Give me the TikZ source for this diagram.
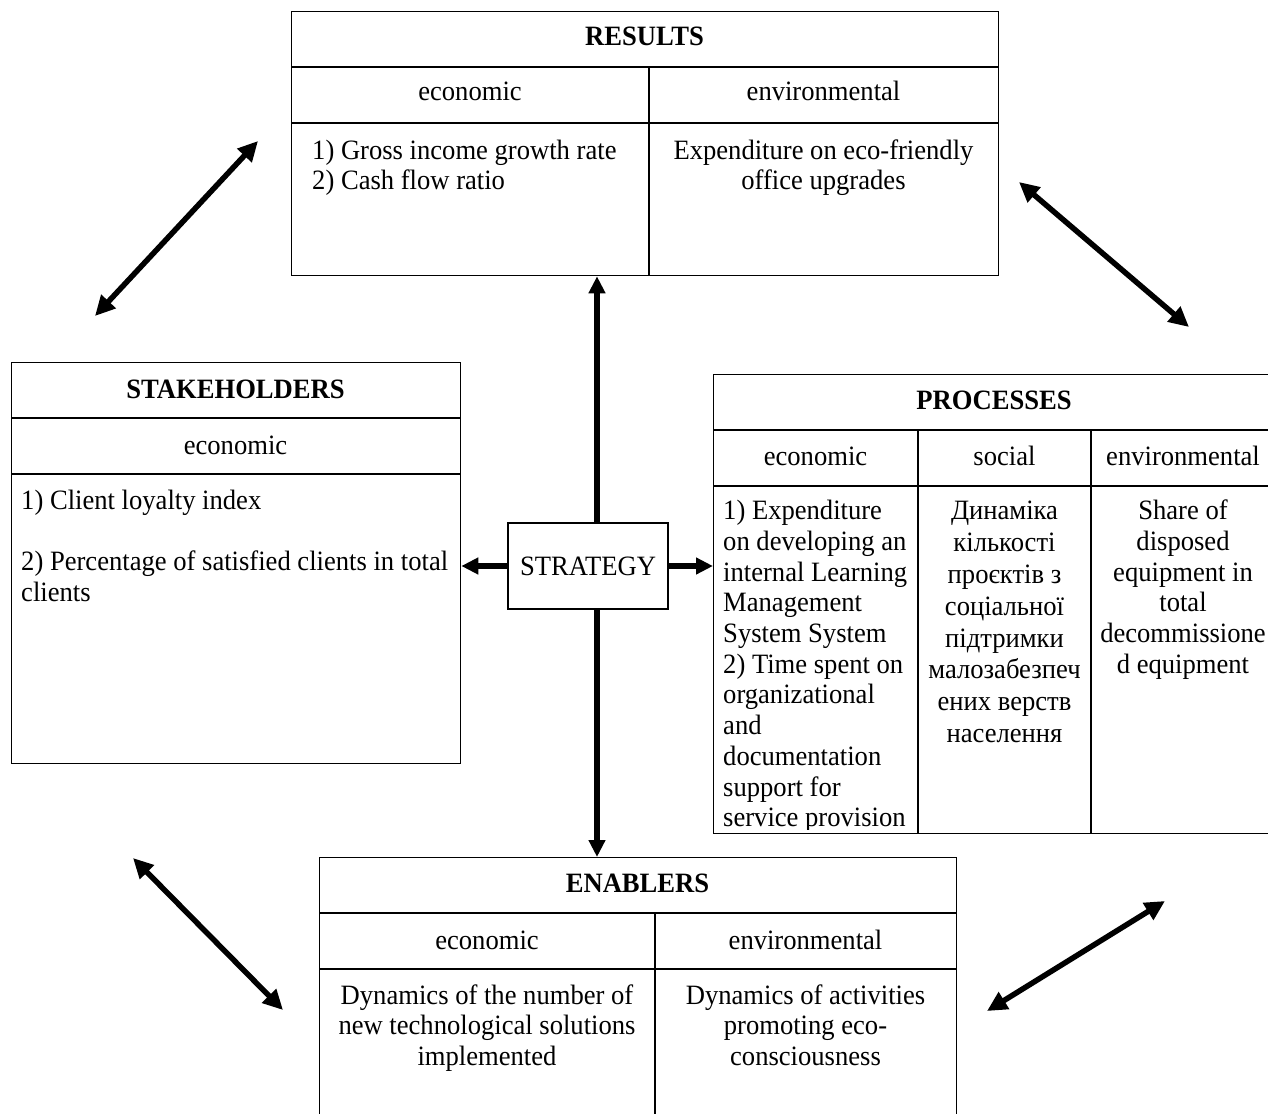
\documentclass[tikz,border=0pt]{standalone}
\usepackage{fontspec}
\setmainfont{Liberation Serif}[FakeStretch=0.95]
\usetikzlibrary{arrows.meta}
\begin{document}
\begin{tikzpicture}[x=1pt,y=-1pt,
  box/.style={draw, line width=1.3pt, inner sep=0pt, anchor=north west},
  sepline/.style={line width=1.3pt},
  txt/.style={inner sep=0pt, font=\fontsize{28}{30.7}\selectfont},
  ttl/.style={inner sep=0pt, font=\fontsize{28}{30.7}\selectfont\bfseries, anchor=base},
  hdr/.style={txt, anchor=base},
  bodyc/.style={txt, anchor=north, align=center},
  bodyl/.style={txt, anchor=north west, align=left},
  conn/.style={line width=5.5pt, -{Triangle[length=17pt,width=16pt]}},
  dconn/.style={line width=5.5pt, {Triangle[length=20pt,width=19pt]}-{Triangle[length=20pt,width=19pt]}},
]
\useasboundingbox (0,0) rectangle (1268,1113);
\clip (0,0) rectangle (1268,1113);

% RESULTS
\node[box, minimum width=707pt, minimum height=264pt] (res) at (291,11) {};
\draw[sepline] (291,67) -- (998,67);
\draw[sepline] (291,123) -- (998,123);
\draw[sepline] (649,67) -- (649,275);
\node[ttl] (resT) at (644.5,46) {RESULTS};
\node[hdr] (resH1) at (470,101) {economic};
\node[hdr] (resH2) at (823.5,101) {environmental};
\node[bodyl] (resB1) at (312,137.5) {\strut 1) Gross income growth rate\\2) Cash flow ratio};
\node[bodyc] (resB2) at (823.5,137.5) {\strut Expenditure on eco-friendly\\office upgrades};

% STAKEHOLDERS
\node[box, minimum width=449pt, minimum height=401pt] (stk) at (11,362) {};
\draw[sepline] (11,418) -- (460,418);
\draw[sepline] (11,474) -- (460,474);
\node[ttl] (stkT) at (235.5,398) {STAKEHOLDERS};
\node[hdr] (stkH) at (235.5,454) {economic};
\node[bodyl] (stkB) at (21,487.5) {\strut 1) Client loyalty index\\[30.7pt]2) Percentage of satisfied clients in total\\clients};

% PROCESSES
\node[box, minimum width=562pt, minimum height=459pt] (proc) at (713,374) {};
\draw[sepline] (713,430) -- (1275,430);
\draw[sepline] (713,486) -- (1275,486);
\draw[sepline] (918,430) -- (918,833);
\draw[sepline] (1091,430) -- (1091,833);
\node[ttl] (procT) at (994,409) {PROCESSES};
\node[hdr] (procH1) at (815.5,465) {economic};
\node[hdr] (procH2) at (1004.5,465) {social};
\node[hdr] (procH3) at (1183,465) {environmental};
\begin{scope}
\clip (714,487) rectangle (917,829);
\node[bodyl] (procB1) at (723,498) {\strut 1) Expenditure\\on developing an\\internal Learning\\Management\\System System\\2) Time spent on\\organizational\\and\\documentation\\support for\\service provision};
\end{scope}
\node[bodyc, font=\fontsize{28}{31.8}\selectfont] (procB2) at (1004.5,497.5) {\strut Динаміка\\кількості\\проєктів з\\соціальної\\підтримки\\малозабезпеч\\ених верств\\населення};
\node[bodyc] (procB3) at (1183,498) {\strut Share of\\disposed\\equipment in\\total\\decommissione\\d equipment};

% ENABLERS
\node[box, minimum width=637pt, minimum height=300pt] (ena) at (319,857) {};
\draw[sepline] (319,913) -- (956,913);
\draw[sepline] (319,969) -- (956,969);
\draw[sepline] (655,913) -- (655,1157);
\node[ttl] (enaT) at (637.5,892) {ENABLERS};
\node[hdr] (enaH1) at (487,949) {economic};
\node[hdr] (enaH2) at (805.5,949) {environmental};
\node[bodyc] (enaB1) at (487,982.5) {\strut Dynamics of the number of\\new technological solutions\\implemented};
\node[bodyc] (enaB2) at (805.5,982.5) {\strut Dynamics of activities\\promoting eco-\\consciousness};

% STRATEGY
\node[draw, line width=1.3pt, minimum width=160pt, minimum height=86pt, inner sep=0pt,
      font=\fontsize{28}{30.7}\selectfont] (str) at (588,566) {\raisebox{-1.5pt}{STRATEGY}};

% connectors from strategy
\draw[conn] ([xshift=9pt]str.north) -- ([xshift=9pt]str.north |- res.south);
\draw[conn] ([xshift=9pt]str.south) -- ([xshift=9pt]str.south |- ena.north);
\draw[conn] (str.west) -- (str.west -| stk.east);
\draw[conn] (str.east) -- (str.east -| proc.west);

% diagonal double arrows
\coordinate (d1a) at (95,316);
\coordinate (d1b) at (258,141);
\coordinate (d2a) at (1019,182);
\coordinate (d2b) at (1189,327);
\coordinate (d3a) at (133,858);
\coordinate (d3b) at (283,1010);
\coordinate (d4a) at (987,1011);
\coordinate (d4b) at (1165,901);
\draw[dconn] (d1a) -- (d1b);
\draw[dconn] (d2a) -- (d2b);
\draw[dconn] (d3a) -- (d3b);
\draw[dconn] (d4a) -- (d4b);
\end{tikzpicture}
\end{document}
